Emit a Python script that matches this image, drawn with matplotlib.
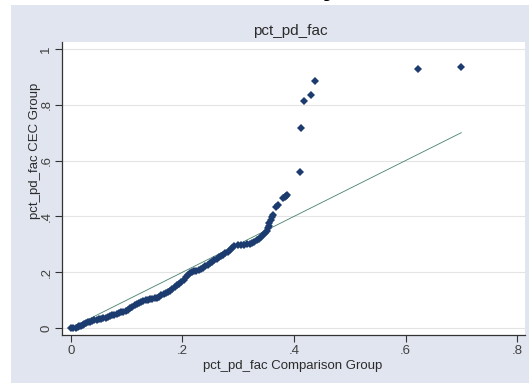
import matplotlib
matplotlib.use("Agg")
import matplotlib.pyplot as plt
from matplotlib.patches import Rectangle

plt.rcParams['font.family'] = ['Liberation Sans', 'DejaVu Sans']

# quantiles: comparison group (x) vs CEC group (y)
comp_q = [0.000, 0.004, 0.009, 0.012, 0.015, 0.018, 0.021, 0.024, 0.027, 0.030,
          0.034, 0.038, 0.042, 0.046, 0.050, 0.054, 0.058, 0.062, 0.066, 0.070,
          0.074, 0.078, 0.082, 0.086, 0.090, 0.094, 0.098, 0.102, 0.106, 0.110,
          0.114, 0.118, 0.122, 0.126, 0.130, 0.134, 0.138, 0.142, 0.146, 0.150,
          0.154, 0.158, 0.162, 0.166, 0.170, 0.174, 0.178, 0.182, 0.186, 0.190,
          0.194, 0.198, 0.202, 0.206, 0.209, 0.213, 0.217, 0.221, 0.225, 0.229,
          0.233, 0.237, 0.241, 0.245, 0.249, 0.253, 0.257, 0.261, 0.265, 0.269,
          0.273, 0.277, 0.281, 0.285, 0.289, 0.293, 0.300, 0.305, 0.310, 0.316,
          0.321, 0.325, 0.329, 0.333, 0.337, 0.341, 0.345, 0.348, 0.351, 0.354,
          0.355, 0.356, 0.358, 0.360, 0.363, 0.368, 0.372, 0.381, 0.383, 0.386,
          0.388, 0.410, 0.412, 0.418, 0.430, 0.438, 0.622, 0.700]
cec_q = [0.000, 0.001, 0.000, 0.002, 0.006, 0.009, 0.012, 0.015, 0.018, 0.021,
         0.023, 0.025, 0.027, 0.029, 0.031, 0.033, 0.035, 0.037, 0.040, 0.042,
         0.045, 0.047, 0.050, 0.053, 0.056, 0.058, 0.061, 0.065, 0.070, 0.075,
         0.081, 0.085, 0.089, 0.093, 0.097, 0.100, 0.102, 0.104, 0.105, 0.106,
         0.108, 0.112, 0.117, 0.121, 0.125, 0.129, 0.134, 0.140, 0.146, 0.153,
         0.159, 0.165, 0.172, 0.182, 0.190, 0.196, 0.201, 0.204, 0.206, 0.208,
         0.210, 0.215, 0.221, 0.227, 0.232, 0.237, 0.243, 0.248, 0.253, 0.258,
         0.263, 0.268, 0.274, 0.280, 0.287, 0.294, 0.297, 0.298, 0.299, 0.300,
         0.302, 0.305, 0.309, 0.315, 0.320, 0.326, 0.333, 0.340, 0.347, 0.357,
         0.366, 0.375, 0.388, 0.398, 0.405, 0.432, 0.441, 0.465, 0.469, 0.474,
         0.478, 0.559, 0.718, 0.815, 0.834, 0.886, 0.927, 0.934]

xticks = [0, 0.2, 0.4, 0.6, 0.8]
xtick_labels = ['0', '.2', '.4', '.6', '.8']
yticks = [0, 0.2, 0.4, 0.6, 0.8, 1.0]
ytick_labels = ['0', '.2', '.4', '.6', '.8', '1']

bg = '#e1e5ef'
txt = '#2b2b2b'

fig = plt.figure(figsize=(5.29, 3.83), dpi=100)
fig.patches.append(Rectangle((11 / 529, 0), 1, 1 - 5 / 383, transform=fig.transFigure,
                             facecolor=bg, edgecolor='none', zorder=-5))
# cut-off slide title fragment at the very top
fig.text(0.624, 1.014, 'y', fontsize=20, fontweight='bold', color='black',
         ha='center', va='baseline')

ax = fig.add_axes([62 / 529, 48 / 383, 463 / 529, 293 / 383])
ax.set_facecolor('white')

ax.plot([min(comp_q), max(comp_q)], [min(comp_q), max(comp_q)],
        color='#45806a', lw=0.6, zorder=2)
ax.plot(comp_q, cec_q, linestyle='none', marker='D', markersize=4.3,
        color='#1c3b6e', markeredgewidth=0, zorder=3)

ax.set_xlim(-0.0161, 0.8143)
ax.set_ylim(-0.025, 1.025)
ax.set_xticks(xticks)
ax.set_xticklabels(xtick_labels)
ax.set_yticks(yticks)
ax.set_yticklabels(ytick_labels, rotation=90, va='center')
ax.tick_params(direction='out', length=5, width=0.8, color='#333333',
               labelsize=9.5, labelcolor='#404040', pad=2)
ax.grid(axis='y', color='#e4e4e4', lw=0.8)
ax.set_axisbelow(True)
for s in ['top', 'right']:
    ax.spines[s].set_visible(False)
for s in ['left', 'bottom']:
    ax.spines[s].set_color('#333333')
    ax.spines[s].set_linewidth(0.9)

fig.text(0.548, 1 - 31 / 383, 'pct_pd_fac', fontsize=11, color=txt,
         ha='center', va='center')
fig.text(293 / 529, 1 - 366 / 383, 'pct_pd_fac Comparison Group', fontsize=9.5,
         color=txt, ha='center', va='center')
fig.text(35 / 529, 1 - 151 / 383, 'pct_pd_fac CEC Group', fontsize=9.5,
         color=txt, ha='center', va='center', rotation=90)

fig.savefig('out.png', dpi=100)
